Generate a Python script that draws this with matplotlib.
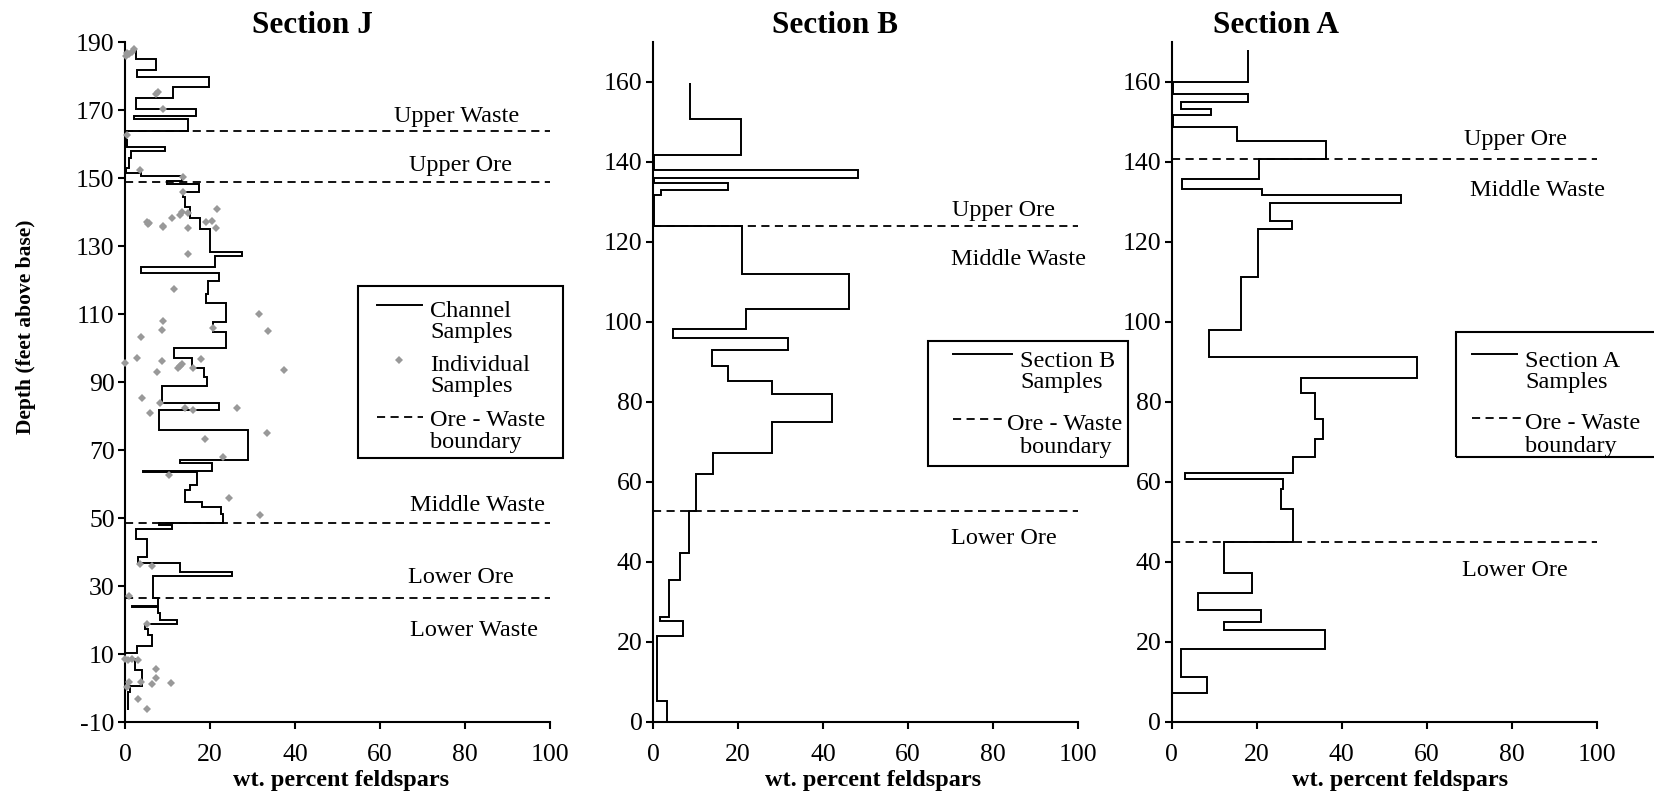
import matplotlib
matplotlib.use("Agg")
import matplotlib.pyplot as plt
from matplotlib.lines import Line2D
from matplotlib.patches import Rectangle

plt.rcParams['font.family'] = ['Liberation Serif', 'DejaVu Serif']
plt.rcParams['axes.unicode_minus'] = False

# Section J - channel samples (depth edges top->down, values between edges)
j_edges = [188.1, 184.9, 181.8, 179.7, 176.7, 173.4, 170.3, 168.2, 167.3, 163.8,
           161.2, 159.0, 158.0, 156.0, 153.0, 151.5, 150.7, 149.2, 148.2, 146.0,
           144.5, 141.6, 138.1, 135.0, 128.3, 127.2, 123.9, 122.2, 119.7, 115.9,
           113.1, 107.7, 104.8, 99.9, 97.2, 94.0, 91.6, 88.9, 83.9, 81.8,
           75.9, 67.2, 66.1, 63.8, 63.5, 59.7, 58.2, 54.8, 53.1, 51.2,
           48.4, 47.8, 46.7, 43.7, 38.4, 36.9, 34.2, 33.0, 26.4, 24.1,
           23.8, 22.0, 20.0, 18.8, 17.3, 15.6, 12.5, 10.2, 8.4, 5.3,
           0.6, -1.1, -6.5]
j_vals = [2.6, 7.3, 2.7, 19.8, 11.2, 2.6, 16.7, 2.0, 14.7,
          0.2, 0.5, 9.4, 1.5, 1.0, 0.3, 3.8, 13.3, 9.8, 17.4,
          13.7, 14.1, 15.3, 17.6, 20.0, 27.5, 21.2, 3.8, 22.0, 19.4,
          19.1, 23.8, 20.8, 23.8, 11.4, 15.7, 18.6, 19.2, 8.8, 22.0,
          8.1, 28.9, 12.9, 20.4, 4.3, 17.0, 15.3, 14.1, 18.0, 22.5,
          23.0, 8.1, 11.0, 2.6, 5.1, 3.1, 12.9, 25.1, 6.5, 7.8,
          1.7, 7.8, 8.2, 12.3, 4.7, 5.3, 6.3, 2.9, 0.0, 2.4,
          3.9, 1.2, 0.8]

# Section J - individual samples
ind_x = [0.5, 1.0, 1.6, 0.3, 2.0, 7.8, 7.2, 8.9, 0.4, 3.5, 13.7, 13.6, 21.7, 13.3,
         13.0, 5.1, 5.7, 9.0, 11.0, 14.7, 19.1, 20.4, 5.5, 9.0, 14.7, 21.4,
         14.7, 11.4, 31.4, 9.0, 33.6, 8.8, 20.6, 3.8, 2.9, 8.8, 17.9, 0.0, 12.5,
         13.0, 13.3, 16.1, 7.6, 37.3, 4.1, 8.2, 5.9, 14.1, 16.1, 26.3,
         33.3, 18.8, 23.1, 10.4, 24.5, 31.8, 3.5, 6.3, 1.0,
         5.1, 0.0, 0.8, 1.6, 3.1, 7.3, 7.3, 1.0, 0.4, 3.8, 6.3, 10.8, 3.1, 5.1]
ind_y = [186.7, 186.4, 187.2, 186.0, 187.8, 175.4, 174.6, 170.4, 162.6, 152.5, 150.4, 146.0, 140.9, 140.0,
         139.2, 137.2, 136.7, 136.0, 138.1, 139.8, 137.0, 137.4, 136.5, 135.7, 135.2, 135.2,
         127.6, 117.4, 109.9, 108.0, 105.0, 105.3, 105.8, 103.3, 97.2, 96.3, 96.7, 95.5, 94.2,
         94.8, 95.3, 94.0, 93.0, 93.5, 85.4, 83.7, 81.0, 82.4, 81.8, 82.3,
         75.1, 73.1, 68.0, 62.6, 56.0, 50.9, 36.5, 36.0, 27.2,
         18.7, 8.5, 8.3, 8.6, 8.3, 5.5, 3.0, 1.9, 0.2, 1.9, 1.1, 1.6, -3.2, -6.3]

j_bounds = [163.8, 148.9, 48.4, 26.4]
j_zones = ["Upper Waste", "Upper Ore", "Middle Waste", "Lower Ore", "Lower Waste"]
j_zone_pos = [(78, 168.2), (79, 153.6), (82.8, 53.8), (79, 32.4), (82, 16.8)]

# Section B
b_edges = [159.8, 150.8, 141.8, 137.9, 136.1, 134.8, 133.1, 131.8, 123.9, 111.9,
           103.2, 98.3, 96.0, 92.9, 89.0, 85.2, 81.9, 75.0, 67.2, 61.9,
           52.7, 42.3, 35.4, 26.1, 25.2, 21.4, 5.2, 0.0]
b_vals = [8.7, 20.7, 0.3, 48.3, 0.3, 17.6, 1.9, 0.3, 21.0,
          46.2, 21.9, 4.6, 31.7, 13.8, 17.6, 28.1, 42.0, 28.1, 14.2,
          10.1, 8.5, 6.4, 3.8, 1.6, 7.1, 0.9, 3.2]
b_bounds = [123.9, 52.7]
b_zones = ["Upper Ore", "Middle Waste", "Lower Ore"]
b_zone_pos = [(82.4, 127.9), (86.1, 115.6), (82.6, 45.7)]

# Section A
a_edges = [167.9, 160.0, 156.9, 155.0, 153.2, 151.8, 148.7, 145.2, 140.8, 135.8,
           133.2, 131.8, 129.8, 125.2, 123.2, 111.2, 97.9, 91.3, 86.0, 82.3,
           75.8, 70.8, 66.2, 62.2, 60.8, 58.1, 53.1, 45.0, 37.2, 32.2,
           27.9, 25.0, 22.9, 18.3, 11.2, 7.1, 6.0]
a_vals = [18.0, 0.2, 18.0, 2.1, 9.3, 0.2, 15.3, 36.3, 20.6, 2.5,
          21.2, 53.9, 23.1, 28.2, 20.2, 16.2, 8.8, 57.6, 30.4, 33.7,
          35.7, 33.7, 28.5, 3.1, 26.3, 25.6, 28.5, 12.2, 18.8, 6.3,
          20.9, 12.2, 36.1, 2.1, 8.4, 0.0]
a_bounds = [140.8, 45.0]
a_zones = ["Upper Ore", "Middle Waste", "Lower Ore"]
a_zone_pos = [(80.8, 145.7), (86.0, 132.9), (80.8, 37.9)]

W, H = 1654, 791
fig = plt.figure(figsize=(W / 100, H / 100), dpi=100)

axJ = fig.add_axes([0.0756, 0.0872, 0.2570, 0.8597])
axB = fig.add_axes([0.3948, 0.0876, 0.2570, 0.8593])
axA = fig.add_axes([0.7084, 0.0876, 0.2570, 0.8593])

LW = 1.4
dash = (0, (4.5, 3))
FS = 17.5
GREY = '#999999'


def style(ax, ylim, yticks):
    ax.set_xlim(0, 100)
    ax.set_ylim(*ylim)
    ax.set_xticks(range(0, 101, 20))
    ax.set_yticks(yticks)
    for s in ['top', 'right']:
        ax.spines[s].set_visible(False)
    for s in ['left', 'bottom']:
        ax.spines[s].set_linewidth(1.5)
    ax.tick_params(direction='out', length=5, width=1.5, labelsize=18.5)
    ax.tick_params(axis='x', pad=11)
    ax.tick_params(axis='y', pad=2.5)


def draw_section(ax, edges, vals, bounds, zones, zone_pos):
    ax.stairs(vals[::-1], edges[::-1], orientation='horizontal', baseline=None,
              color='black', lw=LW)
    for b in bounds:
        ax.plot([0, 100], [b, b], color='black', lw=1.3, linestyle=dash, clip_on=False)
    for name, (x, y) in zip(zones, zone_pos):
        ax.text(x, y, name, ha='center', va='center', fontsize=FS)


# Section J
style(axJ, (-10, 190), range(-10, 191, 20))
draw_section(axJ, j_edges, j_vals, j_bounds, j_zones, j_zone_pos)
axJ.plot(ind_x, ind_y, linestyle='none', marker='D', markersize=4.5,
         color=GREY, markeredgewidth=0, clip_on=False, zorder=3)

# Section B
style(axB, (0, 170), range(0, 161, 20))
draw_section(axB, b_edges, b_vals, b_bounds, b_zones, b_zone_pos)

# Section A
style(axA, (0, 170), range(0, 161, 20))
draw_section(axA, a_edges, a_vals, a_bounds, a_zones, a_zone_pos)


# legend boxes (pixel positions, y from top)
def px(x, y):
    return x / W, 1 - y / H


def legend_box(x0, y0, x1, y1):
    fig.patches.append(Rectangle(px(x0, y1), (x1 - x0) / W, (y1 - y0) / H,
                                 transform=fig.transFigure, fill=False,
                                 edgecolor='black', lw=1.5))


def handle(x0, x1, y, **kw):
    (a, b), (c, d) = px(x0, y), px(x1, y)
    fig.add_artist(Line2D([a, c], [b, d], transform=fig.transFigure, **kw))


def label(x, y, s):
    fig.text(*px(x, y), s, ha='left', va='center_baseline', fontsize=FS)


solid_kw = dict(color='black', lw=LW)
dash_kw = dict(color='black', lw=1.3, linestyle=dash)

legend_box(358, 286, 563, 458)
handle(377, 422, 305, **solid_kw)
x0, y0 = px(399, 360)
fig.add_artist(Line2D([x0], [y0], transform=fig.transFigure, linestyle='none',
                      marker='D', markersize=4, color=GREY, markeredgewidth=0))
handle(377, 423, 417, **dash_kw)
for y, s in zip([309, 330, 363, 384, 418, 440],
                ["Channel", "Samples", "Individual", "Samples", "Ore - Waste", "boundary"]):
    label(430, y, s)

legend_box(928, 341, 1128, 466)
handle(953, 1012, 354, **solid_kw)
handle(953, 1003, 419, **dash_kw)
label(1020, 359, "Section B")
label(1020, 380, "Samples")
label(1007, 422, "Ore - Waste")
label(1020, 445, "boundary")

legend_box(1456, 332, 1680, 457)
handle(1472, 1517, 354, **solid_kw)
handle(1472, 1523, 418, **dash_kw)
label(1525, 359, "Section A")
label(1525, 380, "Samples")
label(1525, 421, "Ore - Waste")
label(1525, 444, "boundary")

# titles and axis labels
for x, name in [(0.1886, "Section J"), (0.5048, "Section B"), (0.7715, "Section A")]:
    fig.text(x, 0.968, name, ha='center', va='center', fontsize=22.5, fontweight='bold')
for x in [0.206, 0.528, 0.8466]:
    fig.text(x, 0.013, "wt. percent feldspars", ha='center', va='center',
             fontsize=17.5, fontweight='bold')
fig.text(0.0158, 0.5866, "Depth (feet above base)", ha='center', va='center',
         rotation=90, fontsize=15.5, fontweight='bold')

plt.savefig("out.png", dpi=100)
plt.close()
